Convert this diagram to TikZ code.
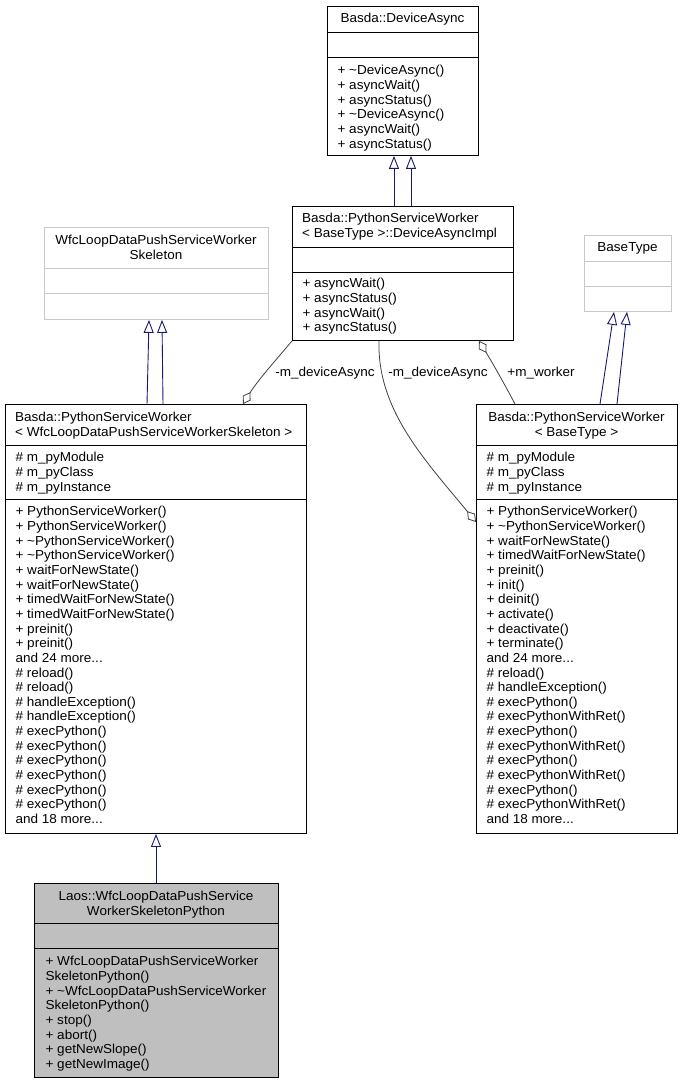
\documentclass[tikz,border=0pt]{standalone}
\usepackage{fontspec}
\newfontfamily\dox[FakeStretch=1.04]{Liberation Sans}
\usetikzlibrary{arrows.meta}
\definecolor{inhc}{HTML}{191970}
\definecolor{assc}{HTML}{404040}
\definecolor{lgray}{HTML}{C8C8C8}
\definecolor{fillg}{HTML}{BFBFBF}
\begin{document}
\begin{tikzpicture}[x=1pt,y=-1pt,
  box/.style={draw=black,line width=0.9pt,fill=white,inner sep=0pt,anchor=north west},
  gbox/.style={box,draw=lgray},
  fbox/.style={box,fill=fillg},
  sep/.style={draw=black,line width=0.9pt},
  gsep/.style={draw=lgray,line width=0.9pt},
  txt/.style={font=\dox\fontsize{13}{14.65}\selectfont,inner sep=0pt},
  txtl/.style={txt,align=left,anchor=north west},
  txtc/.style={txt,align=center,anchor=north},
  lbl/.style={txt,anchor=base},
  inh/.style={draw=inhc,line width=0.9pt,-{Triangle[length=13pt,width=10pt,fill=white]}},
  ass/.style={draw=assc,line width=0.8pt,-{Diamond[length=14pt,width=9pt,fill=white]}}]
\useasboundingbox (0,0) rectangle (682,1083);

% A: Basda::DeviceAsync
\node[box,minimum width=151pt,minimum height=149pt] (A) at (327,6) {};
\draw[sep] (327,32) -- (478,32);
\draw[sep] (327,57) -- (478,57);
\node[txtc] (At) at (402.5,12.4) {\strut Basda::DeviceAsync};
\node[txtl] (Am) at (337.4,64.4) {\strut+ \textasciitilde DeviceAsync()\\+ asyncWait()\\+ asyncStatus()\\+ \textasciitilde DeviceAsync()\\+ asyncWait()\\+ asyncStatus()};

% B: DeviceAsyncImpl
\node[box,minimum width=221pt,minimum height=134pt] (B) at (292,206) {};
\draw[sep] (292,247) -- (513,247);
\draw[sep] (292,272) -- (513,272);
\node[txtl] (Bt) at (302,212.4) {\strut Basda::PythonServiceWorker\\< BaseType >::DeviceAsyncImpl};
\node[txtl] (Bm) at (302.4,277.4) {\strut+ asyncWait()\\+ asyncStatus()\\+ asyncWait()\\+ asyncStatus()};

% C: Skeleton
\node[gbox,minimum width=224pt,minimum height=92pt] (C) at (44,227) {};
\draw[gsep] (44,268) -- (268,268);
\draw[gsep] (44,293) -- (268,293);
\node[txtc] (Ct) at (156,234.4) {\strut WfcLoopDataPushServiceWorker\\Skeleton};

% E: BaseType
\node[gbox,minimum width=87pt,minimum height=76pt] (E) at (584,235) {};
\draw[gsep] (584,261) -- (671,261);
\draw[gsep] (584,286) -- (671,286);
\node[txtc] (Et) at (627.5,241.4) {\strut BaseType};

% D: PythonServiceWorker<Skeleton>
\node[box,minimum width=301pt,minimum height=429pt] (D) at (5,404) {};
\draw[sep] (5,445) -- (306,445);
\draw[sep] (5,499) -- (306,499);
\node[txtl] (Dt) at (15,411.4) {\strut Basda::PythonServiceWorker\\< WfcLoopDataPushServiceWorkerSkeleton >};
\node[txtl] (Da) at (15.4,451.4) {\strut\# m\_pyModule\\\# m\_pyClass\\\# m\_pyInstance};
\node[txtl] (Dm) at (15.4,505.4) {\strut+ PythonServiceWorker()\\+ PythonServiceWorker()\\+ \textasciitilde PythonServiceWorker()\\+ \textasciitilde PythonServiceWorker()\\+ waitForNewState()\\+ waitForNewState()\\+ timedWaitForNewState()\\+ timedWaitForNewState()\\+ preinit()\\+ preinit()\\and 24 more...\\\# reload()\\\# reload()\\\# handleException()\\\# handleException()\\\# execPython()\\\# execPython()\\\# execPython()\\\# execPython()\\\# execPython()\\\# execPython()\\and 18 more...};

% F: PythonServiceWorker<BaseType>
\node[box,minimum width=201pt,minimum height=429pt] (F) at (476,404) {};
\draw[sep] (476,445) -- (677,445);
\draw[sep] (476,499) -- (677,499);
\node[txtc] (Ft) at (576.5,411.4) {\strut Basda::PythonServiceWorker\\< BaseType >};
\node[txtl] (Fa) at (486.4,451.4) {\strut\# m\_pyModule\\\# m\_pyClass\\\# m\_pyInstance};
\node[txtl] (Fm) at (486.4,505.4) {\strut+ PythonServiceWorker()\\+ \textasciitilde PythonServiceWorker()\\+ waitForNewState()\\+ timedWaitForNewState()\\+ preinit()\\+ init()\\+ deinit()\\+ activate()\\+ deactivate()\\+ terminate()\\and 24 more...\\\# reload()\\\# handleException()\\\# execPython()\\\# execPythonWithRet()\\\# execPython()\\\# execPythonWithRet()\\\# execPython()\\\# execPythonWithRet()\\\# execPython()\\\# execPythonWithRet()\\and 18 more...};

% G: Laos
\node[fbox,minimum width=244pt,minimum height=194pt] (G) at (34,883) {};
\draw[sep] (34,923) -- (278,923);
\draw[sep] (34,948) -- (278,948);
\node[txtc] (Gt) at (156,890.4) {\strut Laos::WfcLoopDataPushService\\WorkerSkeletonPython};
\node[txtl] (Gm) at (45.4,955.4) {\strut+ WfcLoopDataPushServiceWorker\\SkeletonPython()\\+ \textasciitilde WfcLoopDataPushServiceWorker\\SkeletonPython()\\+ stop()\\+ abort()\\+ getNewSlope()\\+ getNewImage()};

% inheritance
\draw[inh] (B.north -| 394,0) -- (A.south -| 394,0);
\draw[inh] (B.north -| 411,0) -- (A.south -| 411,0);
\draw[inh] (D.north -| 147,0) -- (C.south -| 149,0);
\draw[inh] (D.north -| 163,0) -- (C.south -| 162,0);
\draw[inh] (F.north -| 600,0) -- (E.south -| 614,0);
\draw[inh] (F.north -| 617,0) -- (E.south -| 627,0);
\draw[inh] (G.north -| 156,0) -- (D.south -| 156,0);

% associations
\draw[ass] (B.south west) .. controls (276,360) and (258,380) .. (D.north -| 243,0);
\draw[ass] (B.south -| 379,0) .. controls (377,410) and (425,460) .. (F.west |- 0,522);
\draw[ass] (F.north -| 515,0) .. controls (505,385) and (492,362) .. (B.south -| 479,0);
\node[lbl] (L1) at (325,376.5) {-m\_deviceAsync};
\node[lbl] (L2) at (438,376.5) {-m\_deviceAsync};
\node[lbl] (L3) at (541,376.5) {+m\_worker};
\end{tikzpicture}
\end{document}
